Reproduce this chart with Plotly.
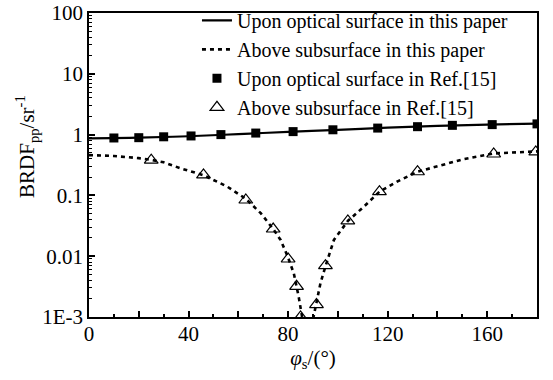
import plotly.graph_objects as go

# Model curves (this paper)
x_upon_line = [0, 20, 40, 60, 80, 100, 120, 140, 160, 180]
y_upon_line = [0.87, 0.89, 0.94, 1.02, 1.11, 1.20, 1.30, 1.39, 1.46, 1.52]

x_sub_line = [0, 10, 20, 25, 30, 36.8, 46, 55.6, 63, 69, 74, 77, 80, 82.3, 84.3, 85.5, 87, 88.5, 90.2,
              91.7, 93, 95, 98.4, 104, 110.4, 116.7, 123.8, 132, 143.9, 150, 162.6, 170, 180]
y_sub_line = [0.46, 0.445, 0.41, 0.385, 0.35, 0.279, 0.215, 0.139, 0.088, 0.051, 0.028, 0.0185, 0.0095,
              0.0052, 0.0021, 0.001, 0.0004, 0.0002, 0.001,
              0.0019, 0.0036, 0.0068, 0.0185, 0.038, 0.065, 0.115, 0.168, 0.245, 0.337, 0.39, 0.49, 0.51, 0.53]

# Reference data (Ref.[15])
x_upon_ref = [10, 20, 30, 41, 53, 67, 82, 98, 116, 132, 146, 162, 180]
y_upon_ref = [0.88, 0.89, 0.92, 0.95, 1.0, 1.06, 1.12, 1.2, 1.28, 1.35, 1.42, 1.46, 1.5]

x_sub_ref = [25, 46, 63, 74, 80, 83.4, 85, 91.4, 95, 104, 116.7, 132, 162.6, 179.5]
y_sub_ref = [0.38, 0.217, 0.084, 0.028, 0.009, 0.0032, 0.001, 0.0016, 0.007, 0.038, 0.115, 0.245, 0.48, 0.52]

x_tickvals = [0, 20, 40, 60, 80, 100, 120, 140, 160, 180]
x_ticktext = ["0", "", "40", "", "80", "", "120", "", "160", ""]
y_tickvals = [100, 10, 1, 0.1, 0.01, 0.001]
y_ticktext = ["100", "10", "1", "0.1", "0.01", "1E-3"]

FONT = "Liberation Serif, Times New Roman, serif"

fig = go.Figure()
fig.add_trace(go.Scatter(x=x_upon_line, y=y_upon_line, mode="lines",
                         line=dict(color="black", width=2.2, shape="spline"),
                         name="Upon optical surface in this paper"))
fig.add_trace(go.Scatter(x=x_sub_line, y=y_sub_line, mode="lines",
                         line=dict(color="black", width=2.6, dash="4px,4px"),
                         name="Above subsurface in this paper"))
fig.add_trace(go.Scatter(x=x_upon_ref, y=y_upon_ref, mode="markers",
                         marker=dict(symbol="square", size=9, color="black"),
                         name="Upon optical surface in Ref.[15]"))
fig.add_trace(go.Scatter(x=x_sub_ref, y=y_sub_ref, mode="markers",
                         marker=dict(symbol="triangle-up-open", size=12, color="black",
                                     line=dict(width=1.2, color="black")),
                         name="Above subsurface in Ref.[15]"))

fig.update_layout(
    width=553, height=380,
    margin=dict(l=89, r=16, t=13, b=63, autoexpand=False),
    paper_bgcolor="white", plot_bgcolor="white",
    font=dict(family=FONT, size=21, color="black"),
    showlegend=True,
    legend=dict(x=0.241, y=1.04, xanchor="left", yanchor="top",
                bgcolor="rgba(0,0,0,0)", font=dict(size=20, family=FONT),
                itemwidth=30, tracegroupgap=0),
    xaxis=dict(range=[0, 180], tickmode="array", tickvals=x_tickvals, ticktext=x_ticktext,
               ticks="inside", ticklen=6, tickwidth=1.5, tickcolor="black",
               minor=dict(ticks="inside", ticklen=3, dtick=10, tickwidth=1.5, tickcolor="black"),
               showline=True, linecolor="black", linewidth=1.5, mirror=True,
               showgrid=False, zeroline=False, ticklabelstandoff=-3, automargin=False,
               ticklabeloverflow="allow",
               tickfont=dict(size=21, family=FONT),
               title=dict(text="<i>φ</i><sub>s</sub>/(°)", font=dict(size=21, family=FONT), standoff=2)),
    yaxis=dict(type="log", range=[-3, 2], tickmode="array", tickvals=y_tickvals, ticktext=y_ticktext,
               ticks="inside", ticklen=6, tickwidth=1.5, tickcolor="black",
               minor=dict(ticks="inside", ticklen=3, tickwidth=1, tickcolor="black",
                          tickvals=[m * 10 ** e for e in range(-3, 2) for m in range(2, 10)]),
               showline=True, linecolor="black", linewidth=1.5, mirror=True,
               showgrid=False, zeroline=False, automargin=False,
               ticklabeloverflow="allow",
               tickfont=dict(size=21, family=FONT)),
    annotations=[dict(text="BRDF<sub>pp</sub>/sr<sup>-1</sup>", textangle=-90,
                      xref="paper", yref="paper", x=-0.138, y=0.56,
                      xanchor="center", yanchor="middle", showarrow=False,
                      font=dict(size=21, family=FONT))],
)

fig.write_html("out.html", config={"displayModeBar": False},
               post_script="document.body.style.margin='0px';")
